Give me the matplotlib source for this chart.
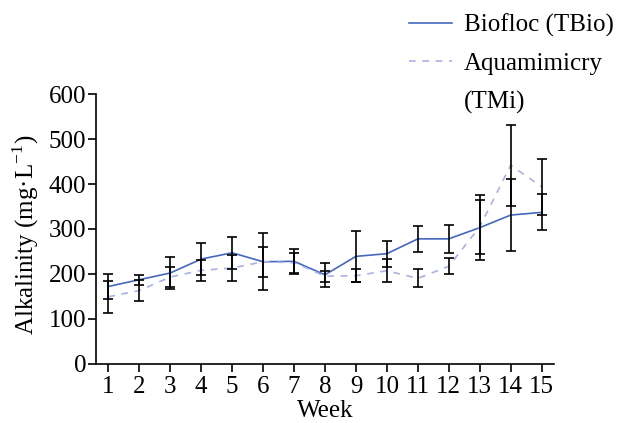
import numpy as np
import matplotlib
matplotlib.use("Agg")
import matplotlib.pyplot as plt
from matplotlib.lines import Line2D

# Data (alkalinity, mg/L)
weeks = np.arange(1, 16)
biofloc = [172, 187, 202, 233, 247, 227, 228, 198, 239, 245, 278, 278, 303, 331, 337]
biofloc_sd = [28, 11, 36, 36, 36, 33, 28, 27, 56, 29, 29, 32, 72, 80, 40]
aqua = [149, 163, 193, 208, 213, 227, 225, 195, 196, 207, 190, 217, 305, 442, 394]
aqua_sd = [35, 24, 22, 24, 28, 63, 22, 12, 15, 26, 20, 18, 60, 90, 62]

plt.rcParams['font.family'] = ['Liberation Serif', 'DejaVu Serif']
plt.rcParams['mathtext.fontset'] = 'custom'
plt.rcParams['mathtext.rm'] = 'Liberation Serif'

fig = plt.figure(figsize=(6.22, 4.23), dpi=100)
ax = fig.add_axes([0.1543, 0.1402, 0.7364, 0.6369])

BLUE = '#4468bd'
LAV = '#a8b2e2'

ax.plot(weeks, biofloc, color=BLUE, lw=1.2)
ax.plot(weeks, aqua, color=LAV, lw=1.2, dashes=(4, 4))
ax.errorbar(weeks, biofloc, yerr=biofloc_sd, fmt='none', ecolor='black',
            elinewidth=1.2, capsize=3.5, capthick=1.2)
ax.errorbar(weeks, aqua, yerr=aqua_sd, fmt='none', ecolor='black',
            elinewidth=1.2, capsize=3.5, capthick=1.2)

ax.set_xlim(0.6, 15.4)
ax.set_ylim(0, 600)
ax.set_xticks(weeks)
ax.set_yticks(np.arange(0, 601, 100))
ax.tick_params(direction='out', length=6, width=1.2, labelsize=18)
ax.tick_params(axis='x', pad=3)
ax.tick_params(axis='y', pad=1)
for s in ['top', 'right']:
    ax.spines[s].set_visible(False)
for s in ['left', 'bottom']:
    ax.spines[s].set_linewidth(1.2)

ax.set_xlabel('Week', fontsize=18, labelpad=1)
ax.set_ylabel(r'Alkalinity (mg·L$^{\mathregular{-1}}$)', fontsize=18)
ax.yaxis.set_label_coords(-0.12, 0.48)

handles = [Line2D([], [], color=BLUE, lw=1.2),
           Line2D([], [], color=LAV, lw=1.2, dashes=(4, 4)),
           Line2D([], [], alpha=0)]
labels = ['Biofloc (TBio)', 'Aquamimicry', '(TMi)']
fig.legend(handles, labels, loc='upper left', bbox_to_anchor=(0.635, 1.0),
           frameon=False, fontsize=18, handlelength=1.75, handletextpad=0.45,
           labelspacing=0.62, borderaxespad=0.15)

fig.savefig('out.png', dpi=100)
